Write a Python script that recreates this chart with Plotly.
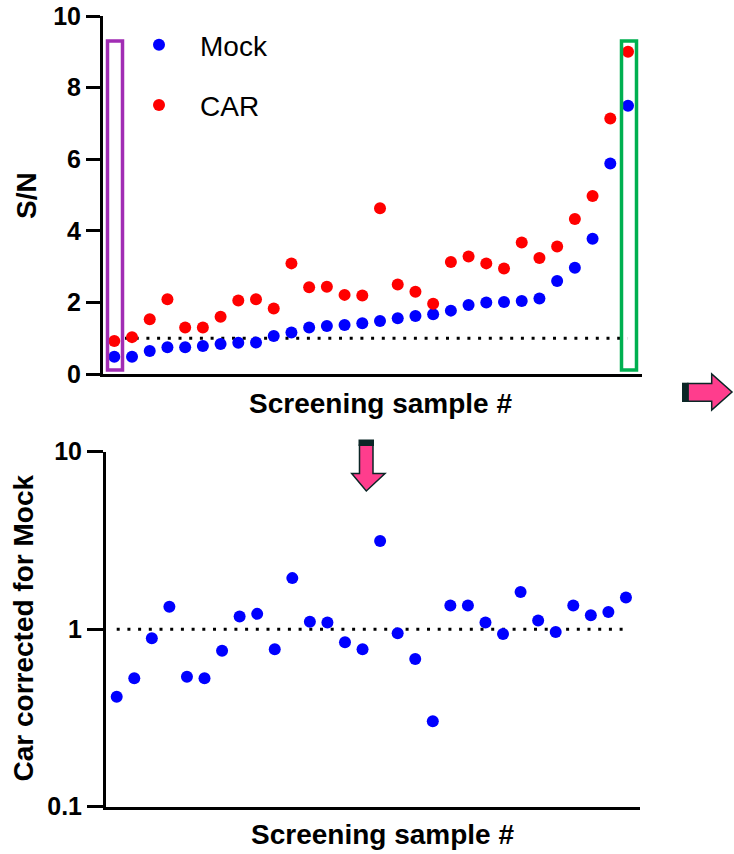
import plotly.graph_objects as go

W, H = 734, 854

# ---- data ----
samples = list(range(1, 31))
mock = [0.48, 0.48, 0.64, 0.75, 0.75, 0.78, 0.84, 0.87, 0.88, 1.06,
        1.16, 1.30, 1.34, 1.37, 1.42, 1.48, 1.56, 1.62, 1.67, 1.77,
        1.93, 2.00, 2.01, 2.04, 2.11, 2.60, 2.97, 3.78, 5.88, 7.49]
car = [0.92, 1.03, 1.53, 2.09, 1.30, 1.30, 1.60, 2.05, 2.09, 1.83,
       3.09, 2.42, 2.44, 2.21, 2.19, 4.63, 2.50, 2.30, 1.96, 3.13,
       3.28, 3.09, 2.95, 3.67, 3.24, 3.56, 4.33, 4.97, 7.14, 9.00]
corrected = [0.416, 0.53, 0.89, 1.34, 0.54, 0.53, 0.755, 1.18, 1.22, 0.77,
             1.94, 1.10, 1.09, 0.845, 0.77, 3.14, 0.95, 0.68, 0.303, 1.36,
             1.36, 1.09, 0.94, 1.62, 1.12, 0.965, 1.36, 1.20, 1.25, 1.51]
top_ticks = [0, 2, 4, 6, 8, 10]
bot_ticks = [0.1, 1, 10]
bot_ticktext = ["0.1", "1", "10"]

FONT = "Liberation Sans, Arial, sans-serif"


def px(x):
    return x / W


def py(y):
    return 1 - y / H


fig = go.Figure()
fig.add_trace(go.Scatter(x=samples, y=mock, mode="markers", name="Mock",
                         legendgroup="a",
                         marker=dict(color="#0000FF", size=12),
                         xaxis="x", yaxis="y"))
fig.add_trace(go.Scatter(x=samples, y=car, mode="markers", name="CAR",
                         legendgroup="b",
                         marker=dict(color="#FF0000", size=12),
                         xaxis="x", yaxis="y"))
fig.add_trace(go.Scatter(x=samples, y=corrected, mode="markers",
                         name="Car corrected", showlegend=False,
                         marker=dict(color="#0000FF", size=12),
                         xaxis="x2", yaxis="y2"))

tickfont = dict(family=FONT, size=25, color="black", weight="bold")
axis_common = dict(showgrid=False, zeroline=False, showline=True,
                   linecolor="black", linewidth=3, automargin=False)

fig.update_layout(
    width=W, height=H,
    margin=dict(l=0, r=0, t=0, b=0, pad=0, autoexpand=False),
    paper_bgcolor="white", plot_bgcolor="white",
    xaxis=dict(domain=[px(103), px(642)], range=[0.362, 30.79],
               anchor="y", showticklabels=False, ticks="", **axis_common),
    yaxis=dict(domain=[py(374), py(16)], range=[0, 10], anchor="x",
               tickvals=top_ticks, ticks="outside", ticklen=14,
               tickwidth=3, tickcolor="black", tickfont=tickfont,
               **axis_common),
    xaxis2=dict(domain=[px(106), px(640)], range=[0.39, 30.8],
                anchor="y2", showticklabels=False, ticks="", **axis_common),
    yaxis2=dict(domain=[py(806.7), py(451.7)], type="log", range=[-1, 1],
                anchor="x2", tickvals=bot_ticks, ticktext=bot_ticktext,
                ticks="outside", ticklen=16, tickwidth=3, tickcolor="black",
                tickfont=tickfont, **axis_common),
    legend=dict(x=px(118), y=py(20), xanchor="left", yanchor="top",
                bgcolor="rgba(0,0,0,0)",
                font=dict(family=FONT, size=28, color="black"),
                itemwidth=72, tracegroupgap=21),
    showlegend=True,
)

title_font = dict(family=FONT, size=28, color="black", weight="bold")
annots = [
    dict(text="S/N", x=px(26), y=py(196), textangle=-90),
    dict(text="Screening sample #", x=px(380), y=py(403), textangle=0),
    dict(text="Car corrected for Mock", x=px(22.5), y=py(628), textangle=-90),
    dict(text="Screening sample #", x=px(382), y=py(834), textangle=0),
]
for a in annots:
    fig.add_annotation(xref="paper", yref="paper", showarrow=False,
                       xanchor="center", yanchor="middle", font=title_font,
                       **a)

# reference dotted lines at 1
dash = "3px,7.7px"
fig.add_shape(type="line", xref="x", yref="y", x0=1, x1=30, y0=1, y1=1,
              line=dict(color="black", width=3, dash=dash), layer="below")
fig.add_shape(type="line", xref="x2", yref="y2", x0=1, x1=30, y0=1, y1=1,
              line=dict(color="black", width=3, dash=dash), layer="below")

# highlight boxes
fig.add_shape(type="rect", xref="paper", yref="paper",
              x0=px(107.5), x1=px(122.5), y0=py(370), y1=py(41),
              line=dict(color="#A12DB4", width=3.5))
fig.add_shape(type="rect", xref="paper", yref="paper",
              x0=px(621.5), x1=px(636.5), y0=py(370), y1=py(41),
              line=dict(color="#00B050", width=3.5))


def path(points):
    s = "M " + " L ".join(f"{px(x):.5f},{py(y):.5f}" for x, y in points)
    return s + " Z"


PINK = "#FF3D8D"
DARK = "#0B2626"
# down arrow
fig.add_shape(type="path", xref="paper", yref="paper",
              path=path([(359.5, 445), (373, 445), (373, 473.5), (385, 473.5),
                         (366.3, 491), (351.7, 473.5), (359.5, 473.5)]),
              fillcolor=PINK, line=dict(color=DARK, width=1.5))
fig.add_shape(type="rect", xref="paper", yref="paper",
              x0=px(358.5), x1=px(374), y0=py(446), y1=py(439.5),
              fillcolor=DARK, line=dict(width=0))
# right arrow
fig.add_shape(type="path", xref="paper", yref="paper",
              path=path([(688, 383.5), (711.7, 383.5), (711.7, 374),
                         (732, 392), (711.7, 410), (711.7, 401.3),
                         (688, 401.3)]),
              fillcolor=PINK, line=dict(color=DARK, width=1.5))
fig.add_shape(type="rect", xref="paper", yref="paper",
              x0=px(682), x1=px(688.5), y0=py(402), y1=py(382.7),
              fillcolor=DARK, line=dict(width=0))

fig.write_html("out.html")
